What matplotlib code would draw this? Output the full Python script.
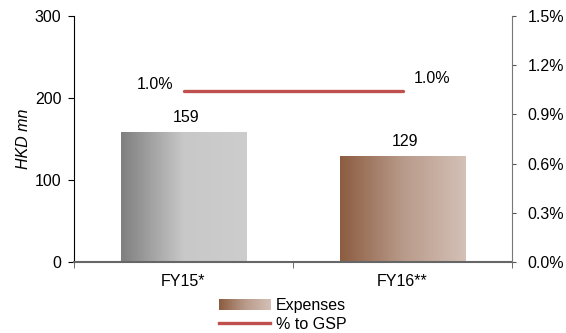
import matplotlib
matplotlib.use("Agg")
import matplotlib.pyplot as plt
import numpy as np
from matplotlib.colors import LinearSegmentedColormap
from matplotlib.image import BboxImage
from matplotlib.transforms import Bbox, TransformedBbox
from matplotlib.lines import Line2D
from matplotlib.patches import Rectangle

plt.rcParams['font.family'] = ['Liberation Sans', 'DejaVu Sans']
plt.rcParams['font.size'] = 11.5

categories = ["FY15*", "FY16**"]
expenses = [159, 129]
pct_gsp = [1.04, 1.04]
pct_labels = ["1.0%", "1.0%"]
left_ticks = [0, 100, 200, 300]
right_ticks = [0.0, 0.3, 0.6, 0.9, 1.2, 1.5]

gray_cmap = LinearSegmentedColormap.from_list("g", ["#7f7f7f", "#c8c8c8", "#cdcdcd"])
brown_cmap = LinearSegmentedColormap.from_list("b", ["#8c5c40", "#b89a8a", "#d4c0b6"])
bar_cmaps = [gray_cmap, brown_cmap]
grad = np.linspace(0, 1, 256).reshape(1, -1)

fig = plt.figure(figsize=(5.66, 3.33), dpi=100)
ax = fig.add_axes([74 / 566, 1 - 262 / 333, (512 - 74) / 566, (262 - 16) / 333])
ax2 = ax.twinx()

x = np.arange(len(categories))
width = 0.575
bars = ax.bar(x, expenses, width=width, color="none", zorder=2)
for b, cm in zip(bars, bar_cmaps):
    bx, by = b.get_x(), b.get_y()
    im = ax.imshow(grad, cmap=cm, aspect="auto",
                   extent=[bx, bx + b.get_width(), by, by + b.get_height()], zorder=2)
    im.set_clip_path(b)
for xi, v in zip(x, expenses):
    ax.annotate(str(v), (xi, v), xytext=(2, 10.5), textcoords="offset points",
                ha="center", va="center")

ax.set_xlim(-0.5, 1.5)
ax.set_ylim(0, 300)
ax.set_yticks(left_ticks)
ax.set_xticks(x)
ax.set_xticklabels(categories)
ax.set_xticks([-0.5, 0.5, 1.5], minor=True)
ax.tick_params(axis="x", which="major", length=0, pad=9)
ax.tick_params(axis="x", which="minor", length=4, color="#555555")
ax.tick_params(axis="y", length=4, pad=5)
ax.set_ylabel("HKD mn", style="italic", labelpad=3)

ax2.plot(x, pct_gsp, color="#c0504d", lw=2.4, solid_capstyle="round", zorder=3)
ax2.set_ylim(0, 1.5)
ax2.set_yticks(right_ticks)
ax2.set_yticklabels([f"{t:.1f}%" for t in right_ticks])
ax2.tick_params(axis="y", length=3, color="#555555", pad=8)
ax2.annotate(pct_labels[0], (x[0], pct_gsp[0]), xytext=(-7, 5), textcoords="offset points",
             ha="right", va="center")
ax2.annotate(pct_labels[1], (x[1], pct_gsp[1]), xytext=(8, 9), textcoords="offset points",
             ha="left", va="center")

for a in (ax, ax2):
    a.spines["top"].set_visible(False)
ax.spines["right"].set_visible(False)
ax2.spines["left"].set_visible(False)
ax2.spines["bottom"].set_visible(False)
ax.spines["left"].set_color("black")
ax.spines["bottom"].set_color("#666666")
ax.spines["bottom"].set_linewidth(1.5)
ax2.spines["right"].set_color("#777777")


class GradHandler:
    def legend_artist(self, legend, orig_handle, fontsize, handlebox):
        x0, y0 = handlebox.xdescent, handlebox.ydescent
        w, h = handlebox.width, handlebox.height
        bb = TransformedBbox(Bbox.from_bounds(-x0, -y0 + h * 0.05, w, h * 0.9),
                             handlebox.get_transform())
        img = BboxImage(bb, cmap=brown_cmap, interpolation="bilinear")
        img.set_data(grad)
        handlebox.add_artist(img)
        return img


grad_handle = Rectangle((0, 0), 1, 1)
line_handle = Line2D([], [], color="#c0504d", lw=2.4)
fig.legend([grad_handle, line_handle], ["Expenses", "% to GSP"],
           handler_map={Rectangle: GradHandler()},
           loc="center", bbox_to_anchor=(283 / 566, 1 - 315 / 333),
           frameon=False, handlelength=3.2, handletextpad=0.35,
           labelspacing=0.2, borderpad=0)

fig.savefig("out.png", dpi=100)
